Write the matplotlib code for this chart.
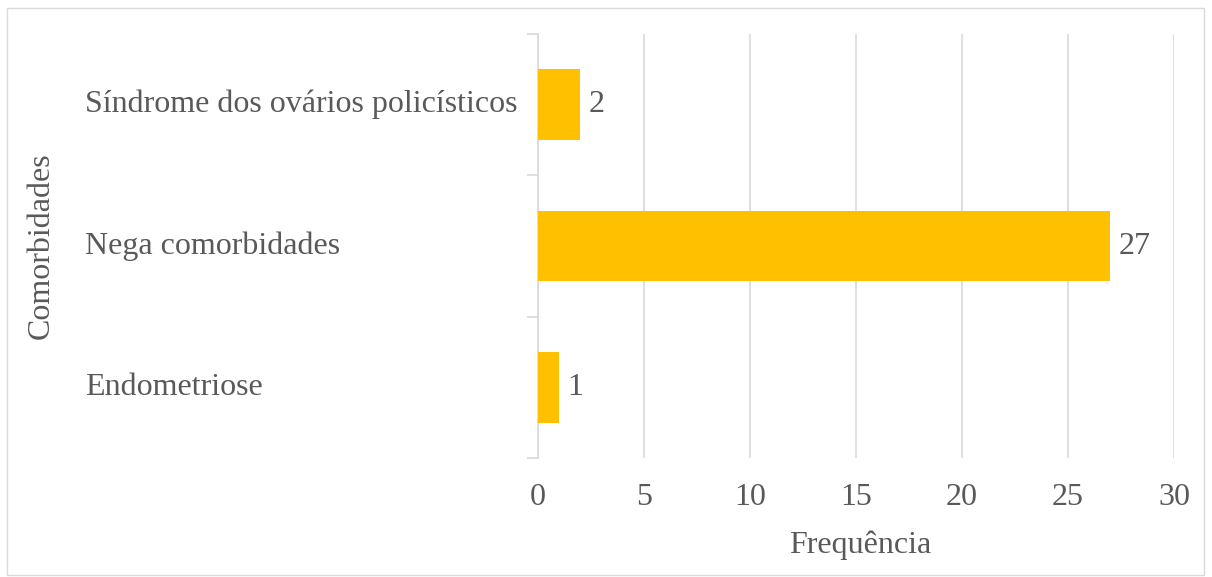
import matplotlib
matplotlib.use("Agg")
import matplotlib.pyplot as plt
from matplotlib.patches import Rectangle
from matplotlib.transforms import blended_transform_factory

categories = ["Endometriose", "Nega comorbidades", "Síndrome dos ovários policísticos"]
values = [1, 27, 2]
x_ticks = [0, 5, 10, 15, 20, 25, 30]

BAR_COLOR = "#FFC000"
TEXT_COLOR = "#595959"
GRID_COLOR = "#D9D9D9"
FS = 23

plt.rcParams["font.family"] = ["Liberation Serif", "DejaVu Serif"]
plt.rcParams["font.size"] = FS

W, H = 1212, 577
fig = plt.figure(figsize=(W / 100, H / 100), dpi=100)
ax = fig.add_axes([538 / W, 1 - 458 / H, (1174 - 538) / W, (458 - 34) / H])

ypos = list(range(len(categories)))
ax.barh(ypos, values, height=0.5, color=BAR_COLOR, zorder=3)
for y, v in zip(ypos, values):
    ax.text(v + 0.38, y, str(v), va="center", ha="left", color=TEXT_COLOR, fontsize=FS)

ax.set_xlim(0, 30)
ax.set_ylim(-0.5, len(categories) - 0.5)
ax.set_xticks(x_ticks)
ax.set_xticklabels([str(t) for t in x_ticks], color=TEXT_COLOR)
ax.tick_params(axis="x", length=0, pad=18)
ax.grid(axis="x", color=GRID_COLOR, linewidth=1.2, zorder=0)

# category boundary ticks on the left axis
ax.set_yticks([i - 0.5 for i in range(len(categories) + 1)])
ax.set_yticklabels([])
ax.tick_params(axis="y", length=8, color=GRID_COLOR, width=1.2)

for side in ("top", "right", "bottom"):
    ax.spines[side].set_visible(False)
ax.spines["left"].set_color(GRID_COLOR)
ax.spines["left"].set_linewidth(1.2)

trans = blended_transform_factory(fig.transFigure, ax.transData)
for y, name in zip(ypos, categories):
    fig.text(85 / W, y, name, transform=trans, ha="left", va="center", color=TEXT_COLOR, fontsize=FS)

fig.text(860 / W, 1 - 545 / H, "Frequência", ha="center", va="center", color=TEXT_COLOR, fontsize=FS)
fig.text(41 / W, 1 - 246 / H, "Comorbidades", ha="center", va="center", rotation=90,
         color=TEXT_COLOR, fontsize=FS)

fig.patches.append(Rectangle((7 / W, 1 - 575 / H), (1204 - 7) / W, (575 - 8) / H,
                             transform=fig.transFigure, fill=False,
                             edgecolor=GRID_COLOR, linewidth=1))

fig.savefig("out.png", dpi=100, facecolor="white")
